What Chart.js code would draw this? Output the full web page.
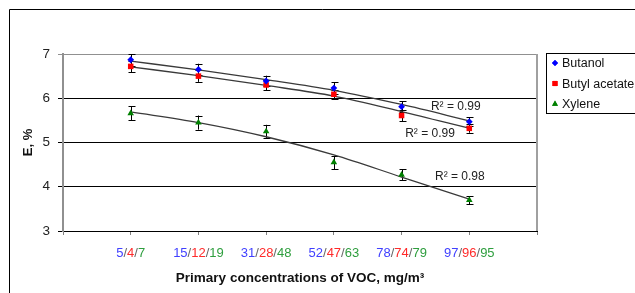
<!DOCTYPE html>
<html>
<head>
<meta charset="utf-8">
<title>E vs primary VOC concentration</title>
<script src="https://cdn.jsdelivr.net/npm/chart.js"></script>
<style>
  body { margin: 0; background: #fff; }
</style>
</head>
<body>
<canvas id="myChart" width="635" height="293"></canvas>
<script>
// categories (empty slots at both ends, as in the original axis)
var categories = ['', '5/4/7', '15/12/19', '31/28/48', '52/47/63', '78/74/79', '97/96/95', ''];

// measured values
var butanol      = [null, 6.87, 6.65, 6.39, 6.23, 5.81, 5.47, null];
var butylAcetate = [null, 6.72, 6.50, 6.30, 6.09, 5.61, 5.32, null];
var xylene       = [null, 5.66, 5.45, 5.25, 4.55, 4.27, 3.70, null];

// error bar half-widths
var butanolErr      = [0, 0.13, 0.13, 0.12, 0.13, 0.12, 0.10, 0];
var butylAcetateErr = [0, 0.13, 0.13, 0.12, 0.10, 0.13, 0.10, 0];
var xyleneErr       = [0, 0.16, 0.16, 0.15, 0.15, 0.12, 0.09, 0];

// trend lines
var butanolTrend      = [null, 6.84, 6.64, 6.42, 6.18, 5.86, 5.49, null];
var butylAcetateTrend = [null, 6.71, 6.51, 6.29, 6.05, 5.70, 5.32, null];
var xyleneTrend       = [null, 5.69, 5.45, 5.13, 4.72, 4.22, 3.72, null];

var r2Texts = ['R² = 0.99', 'R² = 0.99', 'R² = 0.98'];
var seriesNames = ['Butanol', 'Butyl acetate', 'Xylene'];

var FONT = 'Arial, "Liberation Sans", sans-serif';
var BLUE = '#0000ff', RED = '#ff0000', GREEN = '#008000';
var LBL_BLUE = '#4040ff', LBL_RED = '#ff2a2a', LBL_GREEN = '#2e9e3e';

var framePlugin = {
  id: 'frame',
  beforeDraw: function (chart) {
    var ctx = chart.ctx;
    ctx.save();
    ctx.fillStyle = '#fff';
    ctx.fillRect(0, 0, chart.width, chart.height);
    ctx.strokeStyle = '#000';
    ctx.lineWidth = 1;
    ctx.beginPath();
    ctx.moveTo(9.5, chart.height);
    ctx.lineTo(9.5, 9.5);
    ctx.lineTo(chart.width, 9.5);
    ctx.stroke();
    ctx.restore();
  },
  beforeDatasetsDraw: function (chart) {
    var ctx = chart.ctx, x = chart.scales.x, y = chart.scales.y;
    var sets = [[butanol, butanolErr], [butylAcetate, butylAcetateErr], [xylene, xyleneErr]];
    ctx.save();
    ctx.strokeStyle = '#000';
    ctx.lineWidth = 1;
    sets.forEach(function (s) {
      s[0].forEach(function (v, i) {
        if (v === null) return;
        var px = Math.round(x.getPixelForValue(i)) + 0.5;
        var top = y.getPixelForValue(v + s[1][i]);
        var bot = y.getPixelForValue(v - s[1][i]);
        ctx.beginPath();
        ctx.moveTo(px, top); ctx.lineTo(px, bot);
        ctx.moveTo(px - 3, Math.round(top) + 0.5); ctx.lineTo(px + 4, Math.round(top) + 0.5);
        ctx.moveTo(px - 3, Math.round(bot) + 0.5); ctx.lineTo(px + 4, Math.round(bot) + 0.5);
        ctx.stroke();
      });
    });
    ctx.restore();
  },
  afterDraw: function (chart) {
    var ctx = chart.ctx, x = chart.scales.x, y = chart.scales.y, area = chart.chartArea;
    ctx.save();

    // right border of the plot area
    ctx.strokeStyle = '#a0a0a0';
    ctx.lineWidth = 2;
    ctx.beginPath();
    ctx.moveTo(area.right, area.top);
    ctx.lineTo(area.right, area.bottom);
    ctx.stroke();

    // multicoloured category labels
    ctx.font = '13px ' + FONT;
    ctx.textBaseline = 'middle';
    ctx.textAlign = 'left';
    categories.forEach(function (c, i) {
      if (!c) return;
      var parts = c.split('/');
      var pieces = [[parts[0], LBL_BLUE], ['/', '#666'], [parts[1], LBL_RED], ['/', '#666'], [parts[2], LBL_GREEN]];
      var w = 0;
      pieces.forEach(function (p) { w += ctx.measureText(p[0]).width; });
      var cx = x.getPixelForValue(i) - w / 2;
      pieces.forEach(function (p) {
        ctx.fillStyle = p[1];
        ctx.fillText(p[0], cx, area.bottom + 22);
        cx += ctx.measureText(p[0]).width;
      });
    });

    // R² labels
    ctx.fillStyle = '#222';
    ctx.font = '12px ' + FONT;
    ctx.textAlign = 'center';
    var r2Pos = [[5.8, 5.80], [5.42, 5.19], [5.86, 4.22]];
    r2Texts.forEach(function (t, i) {
      ctx.fillText(t, x.getPixelForValue(r2Pos[i][0]), y.getPixelForValue(r2Pos[i][1]));
    });

    // legend
    ctx.strokeStyle = '#000';
    ctx.lineWidth = 1;
    ctx.strokeRect(546.5, 53.5, 100, 60);
    ctx.font = '12.5px ' + FONT;
    ctx.textAlign = 'left';
    var styles = [['rectRot', BLUE, 3], ['rect', RED, 3.6], ['triangle', GREEN, 3.4]];
    styles.forEach(function (st, i) {
      var ly = 63 + i * 20.5;
      ctx.fillStyle = st[1];
      ctx.beginPath();
      Chart.helpers.drawPoint(ctx, { pointStyle: st[0], radius: st[2], borderWidth: 0 }, 555, ly);
      ctx.fill();
      ctx.fillStyle = '#111';
      ctx.fillText(seriesNames[i], 562, ly + 1);
    });
    ctx.restore();
  }
};

function pointSet(label, data, style, color, r) {
  return {
    label: label, data: data, showLine: false,
    pointStyle: style, pointRadius: r, pointHoverRadius: r,
    backgroundColor: color, borderColor: color, borderWidth: 0
  };
}
function trendSet(data) {
  return {
    label: 'trend', data: data, borderColor: '#3a3a3a', borderWidth: 1.3,
    pointRadius: 0, cubicInterpolationMode: 'monotone', fill: false
  };
}

var ctx = document.getElementById('myChart').getContext('2d');
var chart = new Chart(ctx, {
  type: 'line',
  data: {
    labels: categories,
    datasets: [
      pointSet('Butanol', butanol, 'rectRot', BLUE, 3.4),
      pointSet('Butyl acetate', butylAcetate, 'rect', RED, 3.9),
      pointSet('Xylene', xylene, 'triangle', GREEN, 3.8),
      trendSet(butanolTrend),
      trendSet(butylAcetateTrend),
      trendSet(xyleneTrend)
    ]
  },
  options: {
    responsive: false,
    animation: false,
    events: [],
    layout: { padding: { left: 17, top: 54, right: 98, bottom: 0 } },
    plugins: { legend: { display: false }, tooltip: { enabled: false } },
    scales: {
      x: {
        offset: false,
        afterFit: function (s) { s.height = 62; },
        ticks: { display: false },
        grid: { drawOnChartArea: false, drawTicks: true, tickLength: 4, color: '#808080' },
        border: { color: '#000', width: 1 },
        title: {
          display: true, text: 'Primary concentrations of VOC, mg/m³', color: '#111',
          font: { family: FONT, size: 13.5, weight: 'bold' }, padding: { top: 4, bottom: 7 }
        }
      },
      y: {
        min: 3, max: 7,
        afterFit: function (s) { s.width = 46; },
        ticks: { stepSize: 1, padding: 8, color: '#222', font: { family: FONT, size: 13.5 } },
        grid: {
          drawTicks: true, tickLength: 5,
          color: function (c) { return c.tick && c.tick.value === 7 ? '#909090' : '#000'; }
        },
        border: { color: '#909090', width: 2 },
        title: {
          display: true, text: 'E, %', color: '#111',
          font: { family: FONT, size: 13, weight: 'bold' }, padding: { top: 4, bottom: 4 }
        }
      }
    }
  },
  plugins: [framePlugin]
});
</script>
</body>
</html>
